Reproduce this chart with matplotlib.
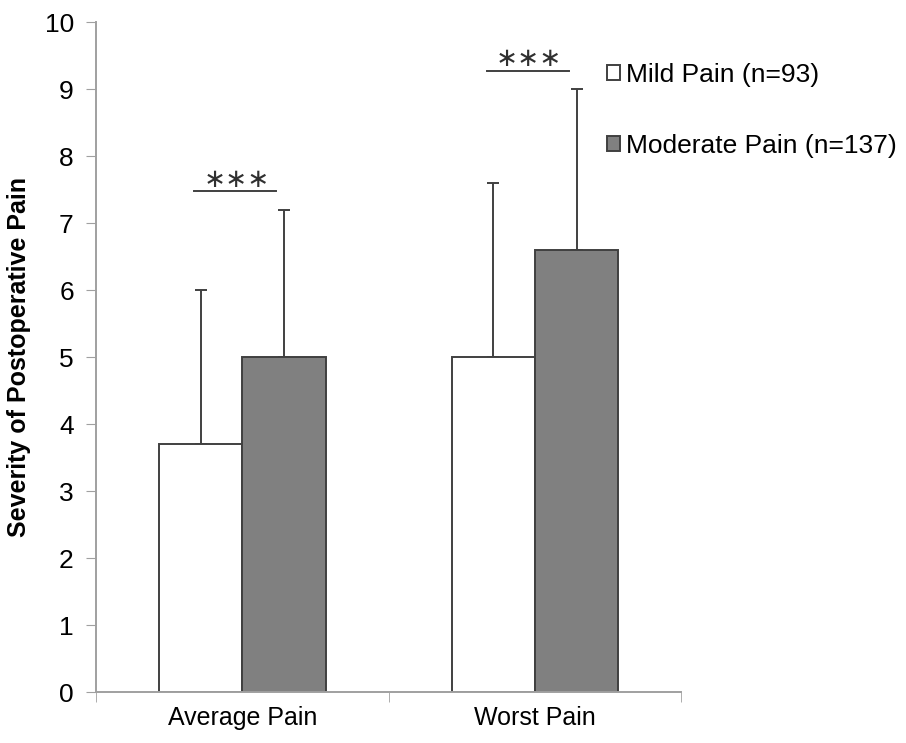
import numpy as np
import matplotlib.pyplot as plt

categories = ['Average Pain', 'Worst Pain']
mild_mean = [3.7, 5.0]
mild_sd = [2.3, 2.6]
moderate_mean = [5.0, 6.6]
moderate_sd = [2.2, 2.4]
series_labels = ['Mild Pain (n=93)', 'Moderate Pain (n=137)']
sig_heights = [7.48, 9.28]
sig_text = '\u2217\u2217\u2217'

plt.rcParams['font.family'] = ['Liberation Sans', 'DejaVu Sans']

fig = plt.figure(figsize=(9.06, 7.43), dpi=100)
ax = fig.add_axes([0.106, 0.0686, 0.646, 0.9014])

x = np.arange(len(categories))
w = 0.285
edge = '#404040'

# Bars with upward error bars only
ax.bar(x - w / 2, mild_mean, w, color='white', edgecolor=edge, linewidth=1.4,
       label=series_labels[0], zorder=2)
ax.bar(x + w / 2, moderate_mean, w, color='#808080', edgecolor=edge, linewidth=1.4,
       label=series_labels[1], zorder=2)
ax.errorbar(x - w / 2, mild_mean, yerr=[np.zeros(2), mild_sd], fmt='none',
            ecolor=edge, elinewidth=1.4, capsize=4, capthick=1.4, zorder=1)
ax.errorbar(x + w / 2, moderate_mean, yerr=[np.zeros(2), moderate_sd], fmt='none',
            ecolor=edge, elinewidth=1.4, capsize=4, capthick=1.4, zorder=1)

# Significance markers
for xi, h in zip(x, sig_heights):
    ax.plot([xi - 0.165, xi + 0.115], [h, h], color='#404040', lw=1.4)
    ax.text(xi - 0.02, h + 0.17, sig_text, ha='center', va='center',
            fontsize=19, color='#303030', family='DejaVu Sans')

ax.set_xlim(-0.5, 1.5)
ax.set_ylim(0, 10)
ax.set_yticks(range(0, 11))
ax.set_xticks(x)
ax.set_xticklabels(categories, fontsize=18)
ax.set_xticks([-0.5, 0.5, 1.5], minor=True)
ax.tick_params(axis='x', which='major', length=0, pad=10)
ax.tick_params(axis='x', which='minor', length=7, color='#a0a0a0', direction='out')
ax.tick_params(axis='y', length=7, color='#a0a0a0', labelsize=19, pad=9)

for s in ['top', 'right']:
    ax.spines[s].set_visible(False)
for s in ['left', 'bottom']:
    ax.spines[s].set_color('#a0a0a0')
    ax.spines[s].set_linewidth(1.4)

ax.set_ylabel('Severity of Postoperative Pain', fontsize=18, fontweight='bold',
              labelpad=10)

ax.legend(loc='upper left', bbox_to_anchor=(0.658, 0.93), bbox_transform=fig.transFigure,
          frameon=False, fontsize=19, handlelength=0.5, handleheight=0.5,
          handletextpad=0.25, labelspacing=1.8, borderaxespad=0)

fig.savefig('out.png', dpi=100)
